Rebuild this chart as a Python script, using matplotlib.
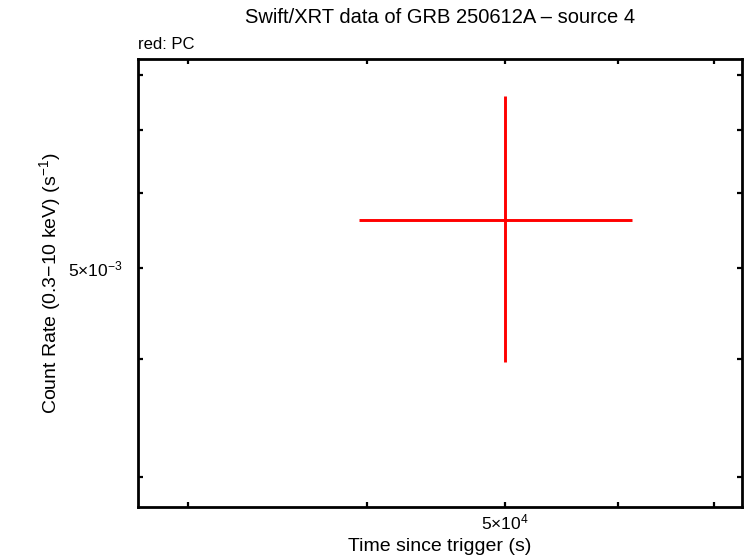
import numpy as np
import matplotlib
matplotlib.use("Agg")
from matplotlib import pyplot as plt
from matplotlib.ticker import FixedLocator, FixedFormatter, NullFormatter

plt.rcParams['font.family'] = ['Liberation Sans', 'DejaVu Sans']
plt.rcParams['mathtext.fontset'] = 'custom'
plt.rcParams['mathtext.rm'] = 'Liberation Sans'
plt.rcParams['mathtext.it'] = 'Liberation Sans'
plt.rcParams['mathtext.bf'] = 'Liberation Sans'

# PC mode data point (time in s, count rate in counts/s)
time = np.array([5.0e4])
time_lo = np.array([3.95e4])
time_hi = np.array([6.13e4])
rate = np.array([5.62e-3])
rate_lo = np.array([3.97e-3])
rate_hi = np.array([7.60e-3])

x_major = [5e4]
x_major_labels = [r'$5{\times}10^{4}$']
x_minor = [3e4, 4e4, 6e4, 7e4]
y_major = [5e-3]
y_major_labels = [r'$5{\times}10^{-3}$']
y_minor = [3e-3, 4e-3, 6e-3, 7e-3, 8e-3]

fig = plt.figure(figsize=(7.46, 5.58), dpi=100)
ax = fig.add_axes([138/746, 1-507/558, (742-138)/746, (507-59)/558])

xerr = np.array([time - time_lo, time_hi - time])
yerr = np.array([rate - rate_lo, rate_hi - rate])
ax.errorbar(time, rate, xerr=xerr, yerr=yerr, fmt='none', ecolor='#ff0000',
            elinewidth=2.1, capsize=0)

ax.set_xscale('log')
ax.set_yscale('log')
ax.set_xlim(27680, 73220)
ax.set_ylim(2.788e-3, 8.318e-3)

ax.xaxis.set_major_locator(FixedLocator(x_major))
ax.xaxis.set_major_formatter(FixedFormatter(x_major_labels))
ax.xaxis.set_minor_locator(FixedLocator(x_minor))
ax.xaxis.set_minor_formatter(NullFormatter())
ax.yaxis.set_major_locator(FixedLocator(y_major))
ax.yaxis.set_major_formatter(FixedFormatter(y_major_labels))
ax.yaxis.set_minor_locator(FixedLocator(y_minor))
ax.yaxis.set_minor_formatter(NullFormatter())

ax.tick_params(which='both', direction='in', top=True, right=True,
               length=3.8, width=1.6, labelsize=12.5)
ax.tick_params(axis='x', pad=4)
ax.tick_params(axis='y', pad=11)
for s in ax.spines.values():
    s.set_linewidth(2.0)

ax.set_xlabel('Time since trigger (s)', fontsize=14, labelpad=4)
ax.set_ylabel(r'Count Rate (0.3$-$10 keV) (s$^{-1}$)', fontsize=14, labelpad=4)
ax.set_title('Swift/XRT data of GRB 250612A \u2013 source 4', fontsize=14.5, pad=26)
ax.text(0, 1.015, 'red: PC', transform=ax.transAxes, fontsize=12,
        ha='left', va='bottom')

fig.savefig('out.png', dpi=100)
